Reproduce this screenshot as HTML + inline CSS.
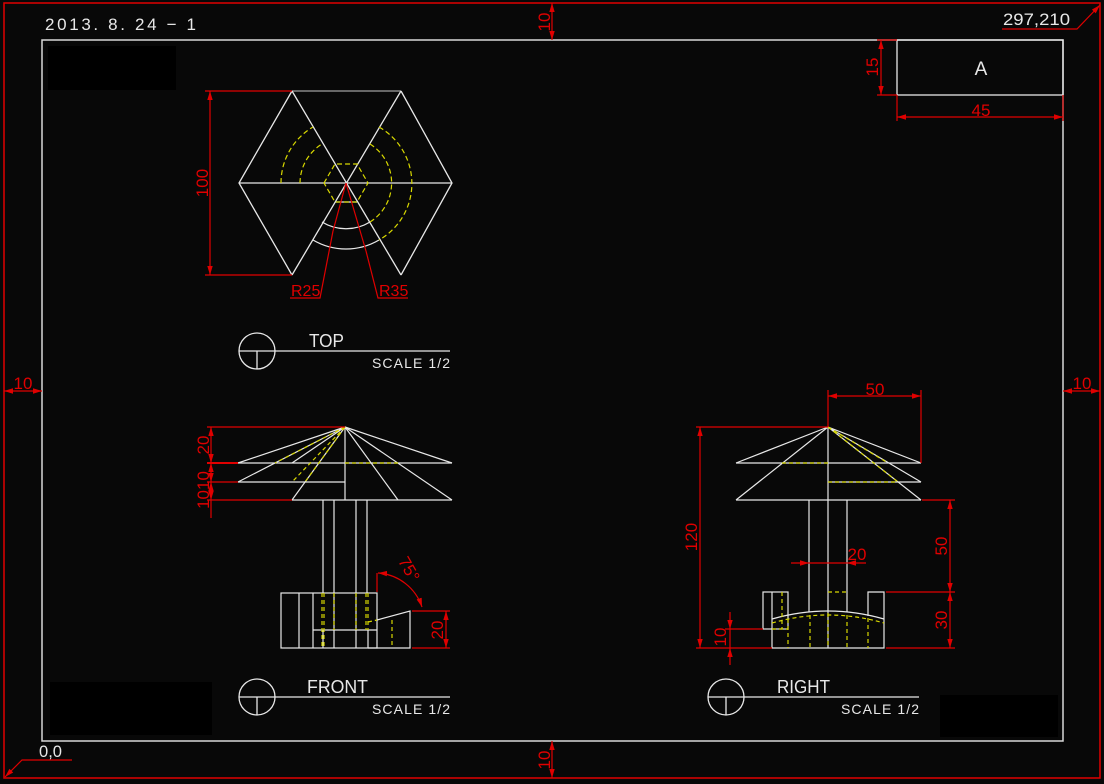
<!DOCTYPE html>
<html><head><meta charset="utf-8"><style>
html,body{margin:0;padding:0;background:#080808;}
svg{display:block;}
text{font-family:"Liberation Sans",sans-serif;}
</style></head><body>
<svg width="1104" height="784" viewBox="0 0 1104 784" xmlns="http://www.w3.org/2000/svg">
<defs>
<marker id="a" viewBox="0 0 10 10" refX="10" refY="5" markerWidth="9" markerHeight="9" markerUnits="userSpaceOnUse" orient="auto-start-reverse"><path d="M0,2 L10,5 L0,8 z" fill="#e00000"/></marker>
</defs>
<rect width="1104" height="784" fill="#080808"/>
<rect x="48" y="46" width="128" height="44" fill="#000"/>
<rect x="50" y="682" width="162" height="53" fill="#000"/>
<rect x="940" y="695" width="118" height="42" fill="#000"/>
<rect x="4" y="3" width="1096" height="775" fill="none" stroke="#e00000" stroke-width="1.5"/>
<rect x="42" y="40" width="1021" height="701" fill="none" stroke="#d8d8d8" stroke-width="1.5"/>

<g stroke="#e00000" stroke-width="1.2" fill="none">
<line x1="552" y1="3" x2="552" y2="40" marker-start="url(#a)" marker-end="url(#a)"/>
<line x1="552" y1="741" x2="552" y2="778" marker-start="url(#a)" marker-end="url(#a)"/>
<line x1="4" y1="391" x2="42" y2="391" marker-start="url(#a)" marker-end="url(#a)"/>
<line x1="1063" y1="391" x2="1100" y2="391" marker-start="url(#a)" marker-end="url(#a)"/>
<polyline points="1002,29 1077,29 1100,5" marker-end="url(#a)"/>
<polyline points="72,760 22,760 5,777" marker-end="url(#a)"/>
</g>
<g fill="#e00000" font-size="17">
<text transform="translate(550,22) rotate(-90)" text-anchor="middle">10</text>
<text transform="translate(550,760) rotate(-90)" text-anchor="middle">10</text>
<text x="23" y="389" text-anchor="middle">10</text>
<text x="1082" y="389" text-anchor="middle">10</text>
</g>
<g fill="#e8e8e8" font-size="17">
<text x="45" y="30" textLength="151" lengthAdjust="spacing">2013. 8. 24 − 1</text>
<text x="1003" y="25" textLength="67" lengthAdjust="spacingAndGlyphs">297,210</text>
<text x="39" y="757" textLength="23" lengthAdjust="spacingAndGlyphs">0,0</text>
</g>

<rect x="897" y="40" width="166" height="55" fill="none" stroke="#e8e8e8" stroke-width="1.3"/>
<text x="981" y="75" fill="#e8e8e8" font-size="19" text-anchor="middle">A</text>
<g stroke="#e00000" stroke-width="1.2" fill="none">
<line x1="877" y1="40" x2="897" y2="40"/><line x1="877" y1="95" x2="897" y2="95"/>
<line x1="881" y1="40" x2="881" y2="95" marker-start="url(#a)" marker-end="url(#a)"/>
<line x1="897" y1="95" x2="897" y2="121"/><line x1="1063" y1="95" x2="1063" y2="121"/>
<line x1="897" y1="117" x2="1063" y2="117" marker-start="url(#a)" marker-end="url(#a)"/>
</g>
<g fill="#e00000" font-size="17">
<text transform="translate(878,67) rotate(-90)" text-anchor="middle">15</text>
<text x="981" y="116" text-anchor="middle">45</text>
</g>

<!-- TOP VIEW -->
<g stroke="#e8e8e8" stroke-width="1.3" fill="none">
<line x1="292" y1="91" x2="401" y2="91" stroke="#a0a0a0"/>
<polyline points="292,91 239,183 292,275"/>
<polyline points="401,91 452,183 401,275"/>
<line x1="292" y1="91" x2="401" y2="275"/>
<line x1="401" y1="91" x2="292" y2="275"/>
<line x1="239" y1="183" x2="452" y2="183"/>
<line x1="335" y1="202" x2="357" y2="202"/>
<path d="M322,222 A46,46 0 0 0 370,222"/>
<path d="M313,240 A65,65 0 0 0 379,240"/>
</g>
<g stroke="#d8d800" stroke-width="1.2" fill="none" stroke-dasharray="5,3">
<path d="M281,183 A65,65 0 0 1 313,127"/>
<path d="M300,183 A46,46 0 0 1 322,144"/>
<path d="M370,144 A46,46 0 0 1 370,222"/>
<path d="M379,127 A65,65 0 0 1 379,240"/>
<polygon points="324,183 335,164 357,164 368,183 357,202 335,202"/>
</g>
<g stroke="#e00000" stroke-width="1.2" fill="none">
<line x1="205" y1="91" x2="292" y2="91"/><line x1="205" y1="275" x2="292" y2="275"/>
<line x1="210" y1="91" x2="210" y2="275" marker-start="url(#a)" marker-end="url(#a)"/>
<polyline points="290,298 320,298 333,231"/>
<line x1="333" y1="231" x2="346" y2="183"/>
<polyline points="408,298 378,298 366,251"/>
<line x1="366" y1="251" x2="346" y2="183"/>
</g>
<g fill="#e00000" font-size="16">
<text transform="translate(208,183) rotate(-90)" text-anchor="middle" font-size="17">100</text>
<text x="291" y="296">R25</text>
<text x="379" y="296">R35</text>
</g>

<g stroke="#e8e8e8" stroke-width="1.3" fill="none">
<circle cx="257" cy="351" r="18"/><line x1="239" y1="351" x2="450" y2="351"/><line x1="257" y1="351" x2="257" y2="369"/>
<circle cx="257" cy="697" r="18"/><line x1="239" y1="697" x2="450" y2="697"/><line x1="257" y1="697" x2="257" y2="715"/>
<circle cx="726" cy="697" r="18"/><line x1="708" y1="697" x2="919" y2="697"/><line x1="726" y1="697" x2="726" y2="715"/>
</g>
<g fill="#e8e8e8">
<text x="309" y="347" font-size="18" textLength="35" lengthAdjust="spacingAndGlyphs">TOP</text>
<text x="372" y="368" font-size="14" textLength="78" lengthAdjust="spacing">SCALE  1/2</text>
<text x="307" y="693" font-size="18" textLength="61" lengthAdjust="spacingAndGlyphs">FRONT</text>
<text x="372" y="714" font-size="14" textLength="78" lengthAdjust="spacing">SCALE  1/2</text>
<text x="777" y="693" font-size="18" textLength="53" lengthAdjust="spacingAndGlyphs">RIGHT</text>
<text x="841" y="714" font-size="14" textLength="78" lengthAdjust="spacing">SCALE  1/2</text>
</g>

<!-- FRONT VIEW -->
<g stroke="#e8e8e8" stroke-width="1.2" fill="none">
<line x1="345" y1="427" x2="238" y2="463"/>
<line x1="345" y1="427" x2="292" y2="463"/>
<line x1="345" y1="427" x2="238" y2="482"/>
<line x1="345" y1="427" x2="292" y2="500"/>
<line x1="345" y1="427" x2="452" y2="463"/>
<line x1="345" y1="427" x2="398" y2="500"/>
<line x1="345" y1="427" x2="452" y2="500"/>
<line x1="238" y1="463" x2="452" y2="463"/>
<line x1="238" y1="482" x2="345" y2="482"/>
<line x1="292" y1="500" x2="452" y2="500"/>
<line x1="345" y1="427" x2="345" y2="500"/>
<line x1="323" y1="500" x2="323" y2="593"/><line x1="334" y1="500" x2="334" y2="648"/>
<line x1="356" y1="500" x2="356" y2="648"/><line x1="367" y1="500" x2="367" y2="593"/>
<rect x="281" y="593" width="96" height="55"/>
<line x1="299" y1="593" x2="299" y2="648"/><line x1="313" y1="593" x2="313" y2="648"/>
<line x1="313" y1="630" x2="377" y2="630"/>
<line x1="323" y1="630" x2="323" y2="648"/><line x1="368" y1="630" x2="368" y2="648"/>
<polyline points="368,648 410,648 410,611 377,620"/>
</g>
<g stroke="#d8d800" stroke-width="1.2" fill="none" stroke-dasharray="4,3">
<line x1="345" y1="427" x2="275" y2="463"/>
<line x1="345" y1="427" x2="292" y2="482"/>
<line x1="345" y1="427" x2="305" y2="482"/>
<line x1="345" y1="463" x2="398" y2="463"/>
<line x1="322" y1="593" x2="322" y2="648"/><line x1="324" y1="593" x2="324" y2="648"/>
<line x1="334" y1="593" x2="334" y2="630"/><line x1="356" y1="593" x2="356" y2="630"/>
<line x1="366" y1="593" x2="366" y2="630"/><line x1="368" y1="593" x2="368" y2="630"/>
<line x1="392" y1="620" x2="392" y2="648"/>
<line x1="368" y1="622" x2="377" y2="620"/>
</g>
<g stroke="#e00000" stroke-width="1.2" fill="none">
<line x1="207" y1="427" x2="345" y2="427"/>
<line x1="207" y1="463" x2="238" y2="463" stroke-width="2"/>
<line x1="207" y1="482" x2="238" y2="482"/>
<line x1="207" y1="500" x2="292" y2="500"/>
<line x1="211" y1="427" x2="211" y2="463" marker-start="url(#a)" marker-end="url(#a)"/>
<line x1="211" y1="463" x2="211" y2="482" marker-start="url(#a)" marker-end="url(#a)"/>
<line x1="211" y1="482" x2="211" y2="500" marker-start="url(#a)" marker-end="url(#a)"/>
<line x1="211" y1="500" x2="211" y2="518"/>
<line x1="377" y1="573" x2="377" y2="592"/>
<path d="M378,573 A50,50 0 0 1 422,607" marker-start="url(#a)" marker-end="url(#a)"/>
<line x1="412" y1="611" x2="450" y2="611"/><line x1="412" y1="648" x2="450" y2="648"/>
<line x1="446" y1="611" x2="446" y2="648" marker-start="url(#a)" marker-end="url(#a)"/>
</g>
<g fill="#e00000" font-size="17">
<text transform="translate(209,445) rotate(-90)" text-anchor="middle">20</text>
<text transform="translate(209,490) rotate(-90)" text-anchor="middle">1010</text>
<text transform="translate(404,572) rotate(60)" text-anchor="middle">75°</text>
<text transform="translate(443,630) rotate(-90)" text-anchor="middle">20</text>
</g>

<!-- RIGHT VIEW -->
<g stroke="#e8e8e8" stroke-width="1.2" fill="none">
<line x1="828" y1="427" x2="736" y2="463"/>
<line x1="828" y1="427" x2="921" y2="463"/>
<line x1="828" y1="427" x2="736" y2="500"/>
<line x1="828" y1="427" x2="921" y2="482"/>
<line x1="828" y1="427" x2="921" y2="500"/>
<line x1="736" y1="463" x2="921" y2="463"/>
<line x1="828" y1="482" x2="921" y2="482"/>
<line x1="736" y1="500" x2="921" y2="500"/>
<line x1="828" y1="427" x2="828" y2="648"/>
<line x1="809" y1="500" x2="809" y2="612"/><line x1="847" y1="500" x2="847" y2="612"/>
<polyline points="772,619 772,648 884,648 884,592 868,592 868,616"/>
<rect x="763" y="592" width="25" height="37"/>
<line x1="772" y1="592" x2="772" y2="619"/>
<path d="M772,619 Q828,603 884,619"/>
</g>
<g stroke="#d8d800" stroke-width="1.2" fill="none" stroke-dasharray="4,3">
<line x1="828" y1="427" x2="888" y2="463"/>
<line x1="828" y1="427" x2="898" y2="482"/>
<line x1="782" y1="463" x2="828" y2="463"/>
<line x1="828" y1="482" x2="898" y2="482"/>
<line x1="828" y1="592" x2="847" y2="592"/>
<path d="M772,623 Q828,607 884,623"/>
<line x1="782" y1="592" x2="782" y2="629"/>
<line x1="772" y1="629" x2="788" y2="629"/>
<line x1="788" y1="619" x2="788" y2="648"/>
<line x1="810" y1="615" x2="810" y2="648"/><line x1="828" y1="613" x2="828" y2="648"/>
<line x1="847" y1="615" x2="847" y2="648"/><line x1="868" y1="618" x2="868" y2="648"/>
</g>
<g stroke="#e00000" stroke-width="1.2" fill="none">
<line x1="828" y1="390" x2="828" y2="427"/><line x1="921" y1="390" x2="921" y2="463"/>
<line x1="828" y1="396" x2="921" y2="396" marker-start="url(#a)" marker-end="url(#a)"/>
<line x1="696" y1="427" x2="828" y2="427"/><line x1="696" y1="648" x2="772" y2="648"/>
<line x1="700" y1="427" x2="700" y2="648" marker-start="url(#a)" marker-end="url(#a)"/>
<line x1="922" y1="500" x2="955" y2="500"/><line x1="886" y1="592" x2="955" y2="592"/><line x1="886" y1="648" x2="955" y2="648"/>
<line x1="950" y1="500" x2="950" y2="592" marker-start="url(#a)" marker-end="url(#a)"/>
<line x1="950" y1="592" x2="950" y2="648" marker-start="url(#a)" marker-end="url(#a)"/>
<line x1="791" y1="563" x2="809" y2="563" marker-end="url(#a)"/>
<line x1="809" y1="563" x2="847" y2="563"/>
<line x1="866" y1="563" x2="847" y2="563" marker-end="url(#a)"/>
<line x1="725" y1="629" x2="763" y2="629"/>
<line x1="730" y1="612" x2="730" y2="629" marker-end="url(#a)"/>
<line x1="730" y1="665" x2="730" y2="648" marker-end="url(#a)"/>
<line x1="730" y1="629" x2="730" y2="648"/>
</g>
<g fill="#e00000" font-size="17">
<text x="875" y="395" text-anchor="middle">50</text>
<text transform="translate(697,537) rotate(-90)" text-anchor="middle">120</text>
<text transform="translate(947,546) rotate(-90)" text-anchor="middle">50</text>
<text transform="translate(947,620) rotate(-90)" text-anchor="middle">30</text>
<text x="857" y="560" text-anchor="middle">20</text>
<text transform="translate(726,637) rotate(-90)" text-anchor="middle">10</text>
</g>
</svg>
</body></html>
